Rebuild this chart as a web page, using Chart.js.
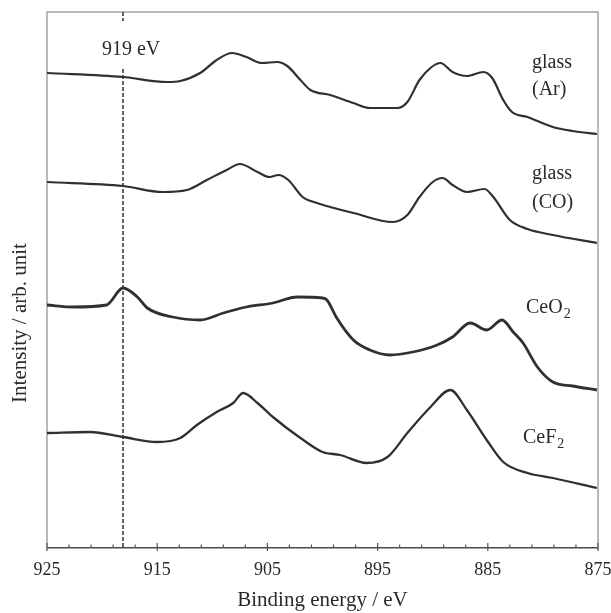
<!DOCTYPE html>
<html>
<head>
<meta charset="utf-8">
<script src="https://cdn.jsdelivr.net/npm/chart.js@4.4.0/dist/chart.umd.min.js"></script>
<style>
  html, body { margin: 0; padding: 0; background: #fff; }
  #wrap { width: 611px; height: 613px; }
</style>
</head>
<body>
<div id="wrap"><canvas id="c" width="611" height="613"></canvas></div>
<script>
// ---- Data (binding energy in eV, intensity in arbitrary units) ----
const xTickLabels = [925, 915, 905, 895, 885, 875];
const markerEnergy = 918.1;
const markerLabel = '919 eV';

const glassArEnergy = [925.0, 918.1, 914.1, 912.9, 911.1, 909.6, 908.2, 906.9, 905.5, 904.1, 903.2, 902.0, 901.1, 899.3, 897.2, 895.7, 893.2, 892.3, 891.2, 890.1, 889.3, 888.2, 886.9, 885.4, 884.6, 883.6, 882.8, 881.4, 879.1, 877.3, 875.1];
const glassArIntensity = [475, 471, 466, 467, 475, 488, 495, 491, 485, 486, 482, 468, 458, 453, 445, 440, 440, 446, 468, 481, 485, 476, 472, 476, 470, 448, 436, 431, 421, 417, 414];

const glassCOEnergy = [925.0, 918.1, 914.5, 912.3, 910.5, 908.7, 907.5, 905.9, 904.8, 904.0, 903.1, 901.8, 900.5, 899.3, 897.2, 893.6, 892.3, 891.2, 890.0, 889.1, 888.2, 886.9, 885.3, 884.5, 883.0, 881.4, 879.1, 875.1];
const glassCOIntensity = [366, 362, 356, 358, 368, 378, 384, 376, 371, 373, 368, 351, 345, 341, 335, 326, 333, 351, 366, 370, 363, 356, 359, 351, 328, 319, 313, 305];

const ceo2Energy = [925.0, 922.6, 919.6, 918.1, 916.8, 915.9, 913.6, 911.1, 909.0, 906.9, 904.5, 902.3, 900.0, 899.6, 898.7, 897.2, 895.7, 893.9, 891.8, 889.6, 888.2, 886.6, 885.1, 883.7, 882.7, 881.8, 880.5, 879.1, 877.3, 875.1];
const ceo2Intensity = [243, 241, 243, 260, 251, 240, 231, 228, 235, 241, 245, 251, 250, 248, 230, 208, 198, 193, 196, 203, 211, 225, 218, 228, 216, 205, 181, 166, 162, 158];

const cef2Energy = [925.0, 921.1, 918.1, 915.0, 912.9, 911.4, 909.6, 908.1, 907.2, 905.9, 904.5, 902.0, 900.0, 898.4, 896.0, 894.1, 892.3, 890.2, 888.4, 886.9, 885.1, 883.6, 881.4, 879.1, 875.1];
const cef2Intensity = [115, 116, 111, 106, 110, 123, 136, 145, 155, 145, 131, 110, 96, 93, 85, 91, 115, 141, 158, 138, 108, 86, 75, 70, 60];

const seriesNames = ['glass (Ar)', 'glass (CO)', 'CeO2', 'CeF2'];

function pts(xs, ys) { return xs.map((x, i) => ({ x: x, y: ys[i] })); }

const serif = '"Liberation Serif", "Times New Roman", serif';
const ink = '#2a2a2a';

const decor = {
  id: 'decor',
  beforeDatasetsDraw(chart) {
    const ctx = chart.ctx;
    const xs = chart.scales.x;
    const { left, right, top, bottom } = chart.chartArea;
    ctx.save();
    ctx.strokeStyle = '#a3a3a3';
    ctx.lineWidth = 1.5;
    ctx.beginPath();
    ctx.moveTo(left, bottom);
    ctx.lineTo(left, top);
    ctx.lineTo(right, top);
    ctx.lineTo(right, bottom);
    ctx.stroke();
    const mx = xs.getPixelForValue(markerEnergy);
    ctx.strokeStyle = '#333';
    ctx.lineWidth = 1.5;
    ctx.setLineDash([4, 2]);
    ctx.beginPath();
    ctx.moveTo(mx, top);
    ctx.lineTo(mx, top + 9);
    ctx.moveTo(mx, top + 57);
    ctx.lineTo(mx, bottom);
    ctx.stroke();
    ctx.setLineDash([]);
    ctx.restore();
  },
  afterDraw(chart) {
    const ctx = chart.ctx;
    const xs = chart.scales.x;
    const { left, right, top, bottom } = chart.chartArea;
    ctx.save();
    ctx.strokeStyle = '#555';
    ctx.lineWidth = 1.2;
    ctx.beginPath();
    for (let v = 875; v <= 925; v += 2) {
      const px = xs.getPixelForValue(v);
      const major = (v - 875) % 10 === 0;
      ctx.moveTo(px, bottom + (major ? 3 : 0));
      ctx.lineTo(px, bottom - (major ? 5 : 3.5));
    }
    ctx.stroke();

    ctx.fillStyle = ink;
    ctx.font = '20px ' + serif;
    ctx.textBaseline = 'alphabetic';
    ctx.textAlign = 'center';
    const mx = xs.getPixelForValue(markerEnergy);
    ctx.fillText(markerLabel, mx + 8, top + 43);

    ctx.textAlign = 'left';
    const lx = right - 66;
    ctx.fillText('glass', lx, top + 56);
    ctx.fillText('(Ar)', lx, top + 83);
    ctx.fillText('glass', lx, top + 167);
    ctx.fillText('(CO)', lx, top + 196);

    function subLabel(main, sub, x, y) {
      ctx.font = '20px ' + serif;
      ctx.fillText(main, x, y);
      const w = ctx.measureText(main).width;
      ctx.font = '14px ' + serif;
      ctx.fillText(sub, x + w + 1, y + 5);
    }
    subLabel('CeO', '2', right - 72, top + 301);
    subLabel('CeF', '2', right - 75, top + 431);

    ctx.font = '21px ' + serif;
    ctx.textAlign = 'center';
    ctx.textBaseline = 'middle';
    ctx.translate(20, 323);
    ctx.rotate(-Math.PI / 2);
    ctx.fillText('Intensity / arb. unit', 0, 0);
    ctx.restore();
  }
};

const lineStyle = (w) => ({
  borderColor: '#303030',
  borderWidth: w,
  pointRadius: 0,
  fill: false,
  cubicInterpolationMode: 'monotone'
});

new Chart(document.getElementById('c'), {
  type: 'line',
  data: {
    datasets: [
      Object.assign({ label: seriesNames[0], data: pts(glassArEnergy, glassArIntensity) }, lineStyle(2.2)),
      Object.assign({ label: seriesNames[1], data: pts(glassCOEnergy, glassCOIntensity) }, lineStyle(2.2)),
      Object.assign({ label: seriesNames[2], data: pts(ceo2Energy, ceo2Intensity) }, lineStyle(2.8)),
      Object.assign({ label: seriesNames[3], data: pts(cef2Energy, cef2Intensity) }, lineStyle(2.3))
    ]
  },
  options: {
    responsive: false,
    animation: false,
    events: [],
    layout: { padding: { left: 47, right: 13, top: 12, bottom: 0 } },
    plugins: { legend: { display: false }, tooltip: { enabled: false } },
    scales: {
      x: {
        type: 'linear',
        reverse: true,
        min: 875,
        max: 925,
        afterFit(scale) {
          scale.height = 65;
          scale.paddingLeft = 0;
          scale.paddingRight = 0;
        },
        afterBuildTicks(scale) { scale.ticks = xTickLabels.map(v => ({ value: v })); },
        grid: { display: false, drawTicks: false },
        border: { display: true, color: '#4a4a4a', width: 1.5 },
        ticks: {
          color: ink,
          font: { family: serif, size: 18 },
          padding: 11,
          maxRotation: 0,
          autoSkip: false
        },
        title: {
          display: true,
          text: 'Binding energy / eV',
          color: ink,
          font: { family: serif, size: 21 },
          padding: { top: 0, bottom: 0 }
        }
      },
      y: {
        display: false,
        min: 0,
        max: 536
      }
    }
  },
  plugins: [decor]
});
</script>
</body>
</html>
